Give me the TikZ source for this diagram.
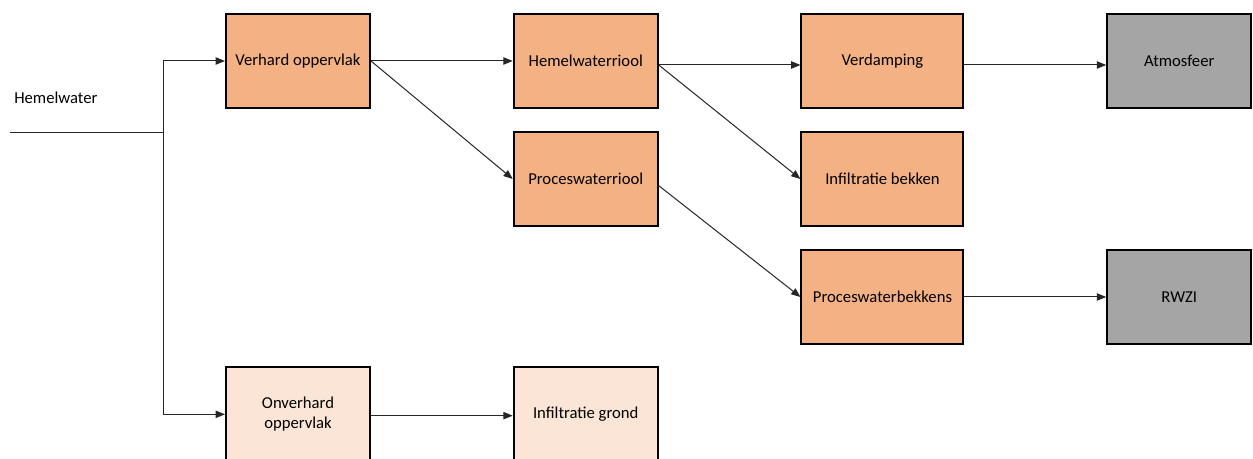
\documentclass[tikz,border=0pt]{standalone}
\usepackage{fontspec}
\setmainfont{Carlito}
\usetikzlibrary{arrows.meta,positioning}
\definecolor{hardfill}{HTML}{F4B183}
\definecolor{softfill}{HTML}{FBE5D6}
\definecolor{endfill}{HTML}{A5A5A5}
\tikzstyle{stage}=[
	rectangle,
	line width=1.5pt,
	draw=black,
	fill=hardfill,
	minimum width=108pt,
	minimum height=70.5pt,
	align=center,
	node distance=16.5pt and 106.3pt
]
\tikzstyle{soft}=[stage, fill=softfill]
\tikzstyle{sink}=[stage, fill=endfill]
\tikzstyle{flow}=[
	-{Triangle[length=7pt,width=5.5pt]},
	line width=0.75pt,
	draw=black!85
]

\begin{document}
\begin{tikzpicture}[x=0.75pt, y=-0.75pt, font=\fontsize{12.5}{15}\selectfont]
\useasboundingbox (0,0) rectangle (1253,459);
\clip (0,0) rectangle (1253,459);
% sources
\node [anchor=west, inner sep=0pt] (Hemelwater) at (14,98) {Hemelwater};
\coordinate (Rain) at (10,133);
\coordinate (Split) at (163,133);
\node [stage] (Verhard) at (298,61) {Verhard oppervlak};
\node [soft] (Onverhard) [below=193pt of Verhard] {Onverhard\\oppervlak};
% sewers
\node [stage] (Hemelriool) [right=of Verhard] {Hemelwaterriool};
\node [stage] (Procesriool) [below=of Hemelriool] {Proceswaterriool};
\node [soft] (Grond) [right=of Onverhard] {Infiltratie grond};
% treatment
\node [stage, minimum width=121.5pt] (Verdamping) [right=of Hemelriool] {Verdamping};
\node [stage, minimum width=121.5pt] (Bekken) [below=of Verdamping] {Infiltratie bekken};
\node [stage, minimum width=121.5pt] (Procesbekken) [below=of Bekken] {Proceswaterbekkens};
% end points
\node [sink] (Atmosfeer) [right=of Verdamping] {Atmosfeer};
\node [sink] (RWZI) [right=of Procesbekken] {RWZI};

\draw [line width=0.75pt, draw=black!85] (Rain) -- (Split);
\draw [flow] (Split) |- (Verhard.west);
\draw [flow] (Split) |- (Onverhard.west);
\draw [flow] (Verhard.east) -- (Hemelriool.west);
\draw [flow] (Verhard.east) -- (Procesriool.west);
\draw [flow] ([yshift=-3pt]Hemelriool.east) -- ([yshift=-3pt]Verdamping.west);
\draw [flow] ([yshift=-3pt]Hemelriool.east) -- (Bekken.west);
\draw [flow] ([yshift=-5pt]Procesriool.east) -- (Procesbekken.west);
\draw [flow] ([yshift=-3pt]Verdamping.east) -- ([yshift=-3pt]Atmosfeer.west);
\draw [flow] (Procesbekken.east) -- (RWZI.west);
\draw [flow] ([yshift=-1pt]Onverhard.east) -- ([yshift=-1pt]Grond.west);
\end{tikzpicture}
\end{document}
